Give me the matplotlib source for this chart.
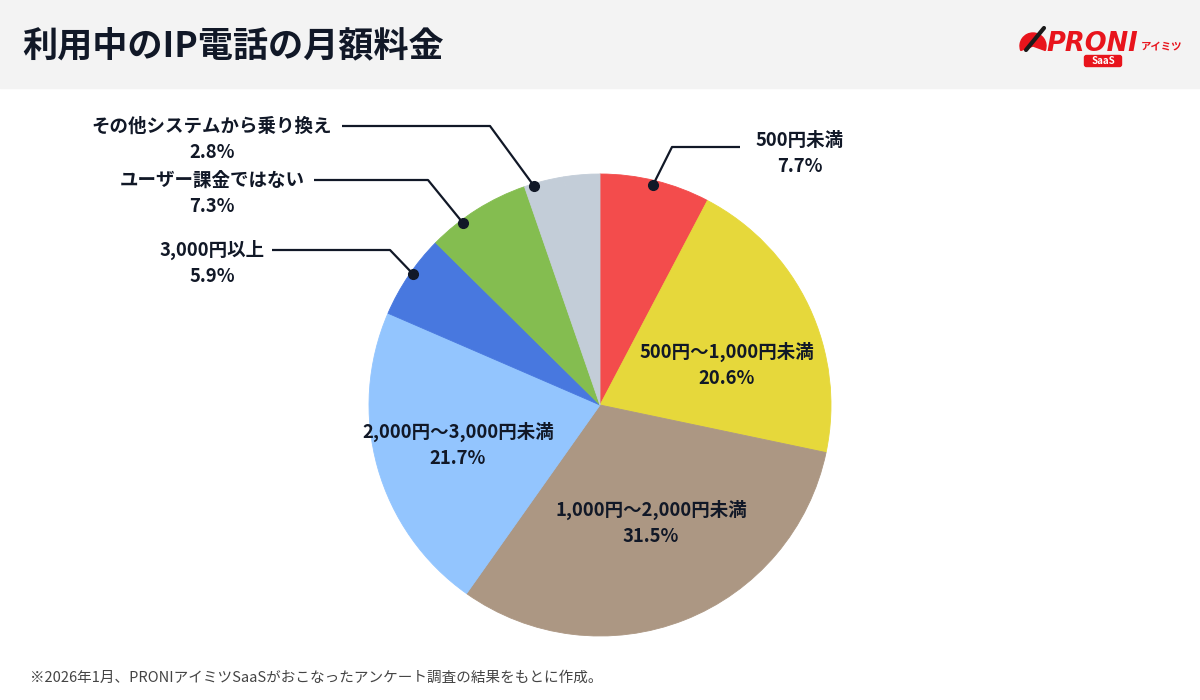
import matplotlib.pyplot as plt
from matplotlib.patches import Rectangle, Wedge, FancyBboxPatch

plt.rcParams['font.family'] = ['Noto Sans CJK JP', 'DejaVu Sans']

title = "利用中のIP電話の月額料金"
note = "※2026年1月、PRONIアイミツSaaSがおこなったアンケート調査の結果をもとに作成。"

categories = ["500円未満", "500円〜1,000円未満", "1,000円〜2,000円未満", "2,000円〜3,000円未満",
              "3,000円以上", "ユーザー課金ではない", "その他システムから乗り換え"]
shares = [7.7, 20.6, 31.5, 21.7, 5.9, 7.3, 2.8]
# the grey wedge in the picture is wider than its label; rest of the circle, unlabeled
rest = 2.5
colors = ["#f34c4c", "#e6d83b", "#ac9783", "#93c5fe", "#4878df", "#84bd50", "#c3cdd8"]

text_col = "#111827"

fig = plt.figure(figsize=(12, 7), dpi=100)
ax = fig.add_axes([0, 0, 1, 1])

# header band
ax.add_patch(Rectangle((0, 612), 1200, 88, color="#f3f3f3", zorder=0))
ax.text(22, 654, title, fontsize=25.3, fontweight='bold', color=text_col, va='center', ha='left')

# logo
ax.add_patch(Wedge((1033, 654), 13, -20, 200, color="#e8141c", zorder=2))
ax.plot([1026, 1044], [650, 672], color="#1a1a1a", lw=3, solid_capstyle='round', zorder=3)
ax.text(1046, 656, "PRONI", fontsize=18.5, fontweight='bold', style='italic', color="#e8141c",
        va='center', ha='left', family=['DejaVu Sans'])
ax.text(1141, 653, "アイミツ", fontsize=7.5, fontweight='bold', color="#e8141c", va='center', ha='left')
ax.add_patch(FancyBboxPatch((1085, 634), 36, 10, boxstyle="round,pad=0.5,rounding_size=2",
                            color="#e8141c", zorder=2))
ax.text(1103, 639, "SaaS", fontsize=7, fontweight='bold', color="white", va='center', ha='center',
        zorder=3)

# pie
cx, cy, r = 600, 295, 231
ax.pie(shares + [rest], colors=colors + [colors[-1]], startangle=90, counterclock=False,
       center=(cx, cy), radius=r, frame=True,
       wedgeprops=dict(linewidth=0.6, edgecolor=None))
# hide seams between the two grey pieces
wedges = ax.patches[-len(shares) - 1:]
for w in wedges:
    w.set_edgecolor(w.get_facecolor())

ax.set_xlim(0, 1200)
ax.set_ylim(0, 700)
ax.set_aspect('equal')
ax.axis('off')

fs = 13.3


def label(x, y, name, pct):
    ax.text(x, 700 - y, name, fontsize=fs, fontweight='bold', color=text_col, ha='center', va='center')
    ax.text(x, 700 - y - 26, f"{pct}%", fontsize=fs, fontweight='bold', color=text_col,
            ha='center', va='center')


def leader(pts):
    xs = [p[0] for p in pts]
    ys = [700 - p[1] for p in pts]
    ax.plot(xs, ys, color=text_col, lw=1.6, solid_capstyle='butt')
    ax.plot(xs[-1], ys[-1], 'o', color=text_col, ms=7)


# inside labels
label(727, 352, categories[1], shares[1])
label(651, 510, categories[2], shares[2])
label(458, 432, categories[3], shares[3])

# outside labels
label(800, 141, categories[0], shares[0])
leader([(740, 147), (672, 147), (653, 185)])

label(212, 250, categories[4], shares[4])
leader([(272, 250), (390, 250), (413, 274)])

label(212, 180, categories[5], shares[5])
leader([(314, 180), (428, 180), (463, 223)])

label(212, 126, categories[6], shares[6])
leader([(342, 126), (490, 126), (534, 186)])

ax.text(30, 700 - 678, note, fontsize=10.5, color="#444444", ha='left', va='center')

fig.savefig("out.png", dpi=100)
